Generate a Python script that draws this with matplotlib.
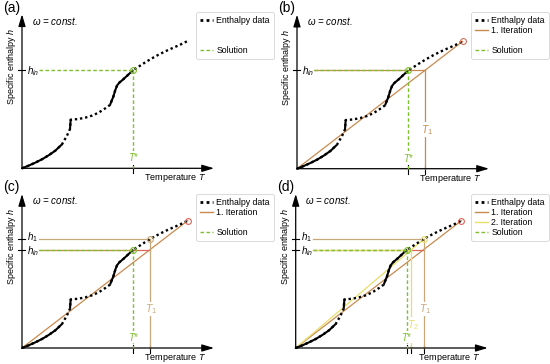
import numpy as np
import matplotlib.pyplot as plt
from matplotlib.lines import Line2D

plt.rcParams['font.family'] = ['Liberation Sans', 'DejaVu Sans']
plt.rcParams['mathtext.fontset'] = 'custom'
plt.rcParams['mathtext.rm'] = 'Liberation Sans'
plt.rcParams['mathtext.it'] = 'Liberation Sans:italic'

# ---- schematic enthalpy data (arbitrary units) ----
T_data = [0, 20, 40, 60, 80, 100, 120, 135, 144, 146, 150, 170, 190, 210, 230, 250,
          264, 274, 280, 285, 292, 305, 320, 334, 350, 370, 390, 410, 430, 450, 475, 497]
h_data = [0, 8, 17, 27, 39, 53, 72, 98, 118, 146, 146, 148, 152, 158, 167, 180,
          190, 215, 235, 248, 257, 268, 282, 295, 305, 318, 330, 341, 351, 360, 371, 382]
solid_spans = [(0, 120), (144, 146), (264, 334)]   # dense data parts drawn solid

h_in = 295
T_star = 334

# secant iterations
T_end, h_end = T_data[-1], h_data[-1]
T1 = h_in * T_end / h_end
h1 = np.interp(T1, T_data, h_data)
T2 = h_in * T1 / h1

panel_labels = ['(a)', '(b)', '(c)', '(d)']
legend_names = ['Enthalpy data', '1. Iteration', '2. Iteration', 'Solution']

# colours
c_it1 = '#c98a4e'
c_tan = '#c8a878'
c_it2 = '#e8df6a'
c_sol = '#7dbf2e'
c_red = '#e0645a'
sol_ls = (0, (2.6, 1.7))
dot_ls = (0, (1, 1.2))


def draw_base(ax, label):
    T = np.array(T_data)
    h = np.array(h_data)
    ax.plot(T, h, color='k', lw=1.7, ls=dot_ls, zorder=4)
    for a, b in solid_spans:
        m = (T >= a) & (T <= b)
        ax.plot(T[m], h[m], color='k', lw=1.5, solid_capstyle='butt', zorder=5)

    arrow = dict(arrowstyle='-|>,head_length=0.6,head_width=0.18', lw=0.9,
                 color='k', mutation_scale=12, shrinkA=0, shrinkB=0)
    ax.annotate('', xy=(0, 462), xytext=(0, -1.5), arrowprops=arrow, zorder=6)
    ax.annotate('', xy=(576, 0), xytext=(-1.5, 0), arrowprops=arrow, zorder=6)

    ax.text(-57, 482, label, fontsize=10, va='center', ha='left')
    ax.text(29, 443, r'$\omega$ = const.', fontsize=7, style='italic', va='center')
    ax.text(-31, 305, 'Specific enthalpy $h$', fontsize=6.5, rotation=90,
            ha='center', va='center')
    ax.text(459, -30, 'Temperature $T$', fontsize=6.5, ha='center', va='center')

    # h_in tick + label
    ax.plot([-11, 9], [h_in, h_in], color='k', lw=0.8)
    ax.text(16, h_in - 3, r'$h_{in}$', fontsize=7, va='center', ha='left')
    # T* tick
    ax.plot([T_star, T_star], [-15, 10], color='k', lw=0.8)

    # solution lines
    ax.plot([52, T_star], [h_in, h_in], color=c_sol, lw=1.0, ls=sol_ls, zorder=7)
    ax.plot([T_star, T_star], [h_in, 0], color=c_sol, lw=1.0, ls=sol_ls, zorder=7)
    ax.plot([T_star], [h_in], marker='o', ms=4.2, mfc='none', mec=c_sol, mew=0.8, zorder=8)
    ax.text(T_star, 33, r'$T$*', fontsize=7, color=c_sol, ha='center', va='center',
            zorder=7, bbox=dict(fc='white', ec='none', pad=0.3))


def add_legend(ax, show):
    styles = [dict(color='k', lw=2, ls=dot_ls),
              dict(color=c_it1, lw=1),
              dict(color=c_it2, lw=1),
              dict(color=c_sol, lw=1, ls=sol_ls)]
    handles, labels = [], []
    for name, st, on in zip(legend_names, styles, show):
        if on:
            handles.append(Line2D([], [], **st))
            labels.append(name)
        else:
            handles.append(Line2D([], [], color='none'))
            labels.append(' ')
    leg = ax.legend(handles, labels, loc='upper right', bbox_to_anchor=(0.995, 0.935),
                    fontsize=6.3, frameon=True, fancybox=True, framealpha=1,
                    edgecolor='#d4d4d4', borderpad=0.45, labelspacing=0.12,
                    handlelength=1.45, handletextpad=0.4, borderaxespad=0)
    leg.get_frame().set_linewidth(0.6)


fig = plt.figure(figsize=(5.5, 3.64), dpi=100)
origins = [(22, 168.3), (22, 168.7), (22, 166), (20.7, 166)]   # px offsets inside each quadrant
for i, label in enumerate(panel_labels):
    col, row = i % 2, i // 2
    ax = fig.add_axes([col * 0.5, 0.5 - row * 0.5, 0.5, 0.5])
    ox, oy = origins[i]
    ax.set_xlim(-ox * 3, (275 - ox) * 3)
    ax.set_ylim(-(182 - oy) * 3, oy * 3)
    ax.axis('off')
    draw_base(ax, label)

    if i == 0:
        add_legend(ax, [True, False, False, True])
        continue

    # first iteration secant
    ax.plot([0, T_end], [0, h_end], color=c_it1, lw=0.9, zorder=3)
    ax.plot([T1, T1], [-15, 10], color='k', lw=0.8)
    if i == 1:
        ax.plot([52, T1], [h_in, h_in], color=c_it1, lw=0.9, zorder=3)
        ax.plot([T1, T1], [h_in, 0], color=c_it1, lw=0.9, zorder=3)
        ax.plot([T_end], [h_end], marker='o', ms=4.2, mfc='none', mec='#d0705a', mew=0.8, zorder=8)
        ax.text(T1 + 5, 117, r'$T_1$', fontsize=7.5, color=c_it1, ha='center', va='center',
                zorder=4, bbox=dict(fc='white', ec='none', pad=0.3))
        add_legend(ax, [True, True, False, True])
        continue

    ax.plot([52, T_star], [h_in, h_in], color=c_it1, lw=0.9, zorder=3)
    ax.plot([T_star, T1], [h_in, h_in], color=c_red, lw=0.9, zorder=3)
    ax.plot([52, T1], [h1, h1], color=c_tan, lw=0.9, zorder=3)
    ax.plot([T1, T1], [h1, 0], color=c_tan, lw=0.9, zorder=3)
    ax.plot([-11, 9], [h1, h1], color='k', lw=0.8)
    ax.text(16, h1 + 5, r'$h_1$', fontsize=7, va='center', ha='left')
    ax.plot([T_end], [h_end], marker='o', ms=4.2, mfc='none', mec=c_red, mew=0.8, zorder=8)
    ax.text(T1 + 4, 117, r'$T_1$', fontsize=7.5, color=c_tan, ha='center', va='center',
            zorder=4, bbox=dict(fc='white', ec='none', pad=0.3))

    if i == 2:
        ax.plot([T1], [h1], marker='o', ms=4.2, mfc='none', mec=c_tan, mew=0.8, zorder=8)
        add_legend(ax, [True, True, False, True])
        continue

    # second iteration secant
    ax.plot([0, T1], [0, h1], color=c_it2, lw=0.9, zorder=3)
    ax.plot([52, T2], [h_in, h_in], color=c_it2, lw=0.9, zorder=3)
    ax.plot([T2, T2], [h_in, 0], color=c_it2, lw=0.9, zorder=3)
    ax.plot([T2, T2], [-15, 10], color='k', lw=0.8)
    ax.plot([T1], [h1], marker='o', ms=4.2, mfc='none', mec=c_it2, mew=0.8, zorder=8)
    ax.text(T2 + 4, 70, r'$T_2$', fontsize=7.5, color=c_it2, ha='center', va='center',
            zorder=4, bbox=dict(fc='white', ec='none', pad=0.3))
    add_legend(ax, [True, True, True, True])

fig.savefig('out.png', dpi=100)
